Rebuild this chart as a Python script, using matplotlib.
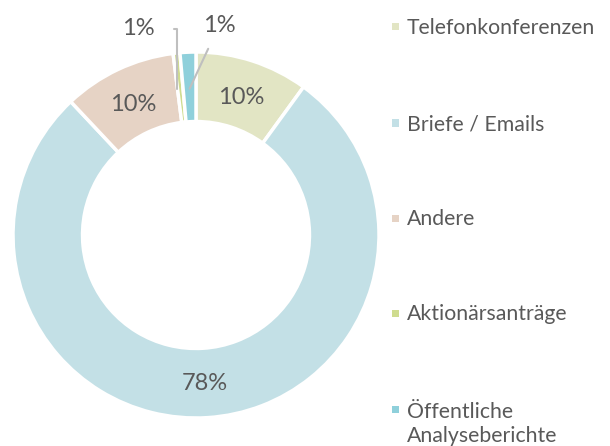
import numpy as np
import matplotlib.pyplot as plt
from matplotlib.patches import Rectangle

plt.rcParams['font.family'] = ['Lato', 'DejaVu Sans']

labels = ["Telefonkonferenzen", "Briefe / Emails", "Andere",
          "Aktionärsanträge", "Öffentliche\nAnalyseberichte"]
values = [10, 78, 10, 0.6, 1.4]
colors = ["#e2e5c4", "#c3e0e6", "#e6d3c5", "#cfdc8f", "#8fd0db"]

text_color = "#595959"

fig = plt.figure(figsize=(6.10, 4.46), dpi=100)
ax = fig.add_axes([13 / 610, (446 - 418) / 446, 366 / 610, 366 / 446])

wedges, _ = ax.pie(values, colors=colors, startangle=90, counterclock=False,
                   radius=1.0, wedgeprops=dict(width=0.38, edgecolor="white", linewidth=2.5))
ax.set_aspect("equal")
ax.set_xlim(-1, 1)
ax.set_ylim(-1, 1)

total = sum(values)
mid_r = 0.80
for i, w in enumerate(wedges):
    ang = np.deg2rad((w.theta1 + w.theta2) / 2)
    pct = "%d%%" % round(values[i] / total * 100)
    x, y = np.cos(ang), np.sin(ang)
    if values[i] >= 5:
        ax.text(mid_r * x, mid_r * y, pct, ha="center", va="center_baseline",
                fontsize=17, color=text_color)

# small slices: labels outside with leader lines
w = wedges[3]
ang = np.deg2rad((w.theta1 + w.theta2) / 2)
ax.annotate("1%", xy=(0.8 * np.cos(ang) - 0.02, 0.8 * np.sin(ang)), xytext=(-0.317, 1.137),
            ha="center", va="center_baseline", fontsize=17, color=text_color,
            arrowprops=dict(arrowstyle="-", color="#bfbfbf", lw=1.5,
                            shrinkA=12, shrinkB=0,
                            connectionstyle="angle,angleA=0,angleB=90,rad=0"),
            annotation_clip=False)
w = wedges[4]
ang = np.deg2rad((w.theta1 + w.theta2) / 2)
ax.annotate("1%", xy=(0.8 * np.cos(ang), 0.8 * np.sin(ang)), xytext=(0.126, 1.156),
            ha="center", va="center_baseline", fontsize=17, color=text_color,
            arrowprops=dict(arrowstyle="-", color="#bfbfbf", lw=1.5,
                            shrinkA=8, shrinkB=0),
            annotation_clip=False)

# legend on the right
ys = [27, 123, 218, 313, 409]
for lab, c, y in zip(labels, colors, ys):
    fy = 1 - y / 446
    fig.patches.append(Rectangle((392 / 610, fy - 3.5 / 446), 7 / 610, 7 / 446,
                                 transform=fig.transFigure, facecolor=c,
                                 edgecolor="none"))
    extra = 25 * lab.count("\n")
    fig.text(407 / 610, 1 - (y + 7.5 + extra) / 446, lab, fontsize=15.3, color=text_color,
             va="baseline", ha="left", linespacing=1.2)

fig.savefig("out.png", dpi=100, facecolor="white")
